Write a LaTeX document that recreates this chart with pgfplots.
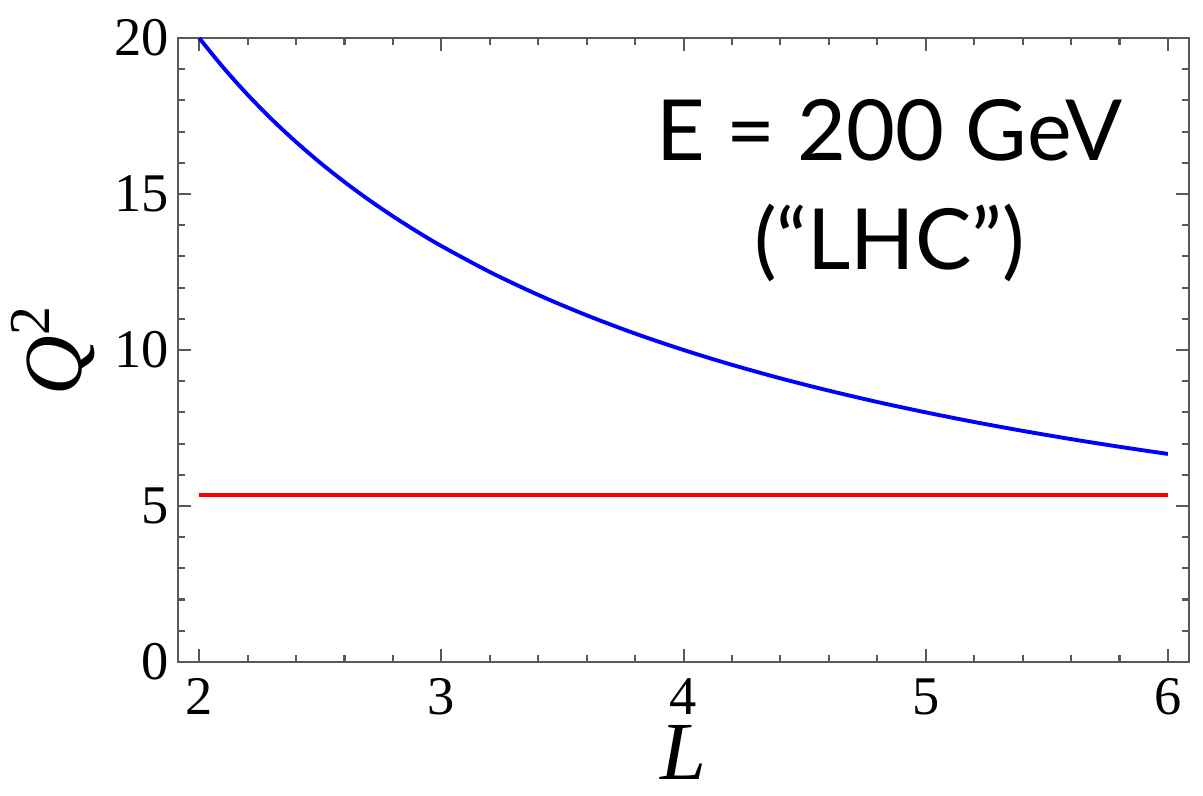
\documentclass[border=0pt]{standalone}
\usepackage{pgfplots}
\pgfplotsset{compat=1.18}
\usepackage{fontspec}
\setmainfont{Liberation Serif}
\newfontfamily\gill{Lato}
\begin{document}
\begin{tikzpicture}
\begin{axis}[
  scale only axis, width=10.11cm, height=6.24cm,
  xmin=1.913, xmax=6.087, ymin=0, ymax=20,
  xtick={2,3,4,5,6}, ytick={0,5,10,15,20},
  minor x tick num=4, minor y tick num=4,
  tick align=inside, major tick length=0.13cm, minor tick length=0.07cm,
  axis line style={black!65, line width=0.7pt},
  every tick/.style={black!65, line width=0.6pt},
  /pgf/number format/assume math mode=true,
  tick label style={font=\fontsize{15.5}{17}\selectfont},
  xticklabel style={yshift=-0.04cm, text depth=0pt},
  yticklabel style={xshift=0.03cm},
  xlabel={\textit{L}}, ylabel={\textit{Q}\textsuperscript{2}},
  label style={font=\fontsize{23.5}{26}\selectfont},
  xlabel style={at={(axis description cs:0.5,0)}, anchor=base, yshift=-1.18cm,
    text height=0.5cm, text depth=0pt, inner sep=0pt},
  ylabel style={yshift=-0.05cm},
]
\addplot[blue, line width=1.1pt, smooth] coordinates {
(2.0,20) (2.1,19.048) (2.2,18.182) (2.3,17.391) (2.4,16.667) (2.5,16)
(2.6,15.385) (2.7,14.815) (2.8,14.286) (2.9,13.793) (3.0,13.333)
(3.2,12.5) (3.4,11.765) (3.6,11.111) (3.8,10.526) (4.0,10)
(4.2,9.524) (4.4,9.091) (4.6,8.696) (4.8,8.333) (5.0,8)
(5.2,7.692) (5.4,7.407) (5.6,7.143) (5.8,6.897) (6.0,6.667)};
\addplot[red, line width=1.1pt] coordinates {(2,5.36) (6,5.36)};
\node[font=\gill\fontsize{24}{31}\selectfont, align=center] at (axis cs:4.85,15.1) {E = 200 GeV\\(“LHC”)};
\end{axis}
\path (-1.78,-1.34) rectangle (10.25,6.62);
\end{tikzpicture}
\end{document}
